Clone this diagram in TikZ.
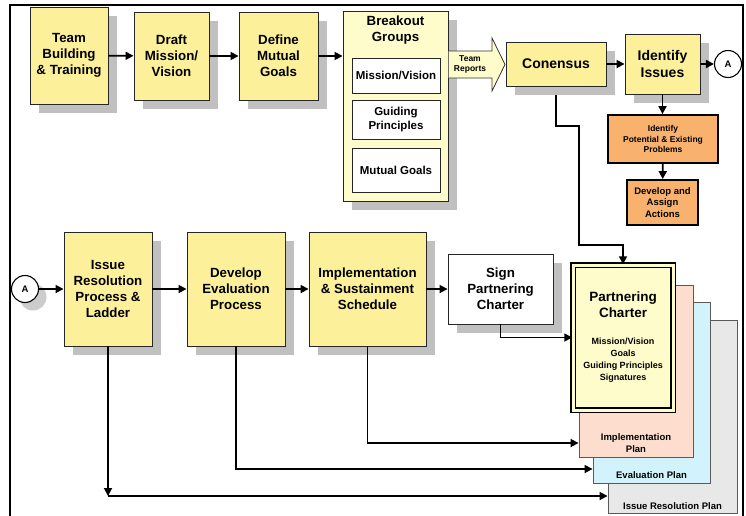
\documentclass[tikz,border=0pt]{standalone}
\usepackage{fontspec}
\setmainfont{Liberation Sans}
\usepackage{tikz}
\usetikzlibrary{positioning,shadows,arrows.meta}
\definecolor{boxyellow}{HTML}{FCF09B}
\definecolor{paleyellow}{HTML}{FFFCCC}
\definecolor{shadowgray}{HTML}{C0C0C0}
\definecolor{boxorange}{HTML}{F8B26E}
\definecolor{planpink}{HTML}{FDDDCD}
\definecolor{planblue}{HTML}{D3F3FC}
\definecolor{plangray}{HTML}{E8E8E8}

\begin{document}
\begin{tikzpicture}[
x=1pt, y=-1pt, >={Triangle[length=8pt,width=8pt]},
shadowed/.style={drop shadow={shadow xshift=9pt, shadow yshift=-9pt, fill=shadowgray, opacity=1}},
yellowbox/.style={rectangle, draw=black!85, line width=0.9pt, fill=boxyellow, shadowed},
signbox/.style={rectangle, draw=black!85, line width=0.9pt, fill=white, shadowed},
groupbox/.style={rectangle, draw=black!85, line width=0.9pt, fill=white},
orangebox/.style={rectangle, draw=black, line width=1.8pt, fill=boxorange},
planpage/.style={rectangle, draw=black!65, line width=0.9pt},
letter/.style={circle, draw=black, line width=1.1pt, fill=white, minimum size=27pt, font=\bfseries\fontsize{9.5}{11}\selectfont},
conn/.style={->, line width=1.7pt},
bigtext/.style={font=\bfseries\fontsize{13.3}{16}\selectfont},
hugetext/.style={font=\bfseries\fontsize{14}{17}\selectfont},
midtext/.style={font=\bfseries\fontsize{11.5}{14}\selectfont},
smalltext/.style={font=\bfseries\fontsize{9.5}{11.7}\selectfont},
tinytext/.style={font=\bfseries\fontsize{8.5}{10.5}\selectfont},
plantext/.style={font=\bfseries\fontsize{9.5}{12}\selectfont}]
\tikzstyle{every node}=[inner sep=0pt, align=center]
\useasboundingbox (0,0) rectangle (746,515);

% top row
\node[yellowbox, bigtext, minimum width=78pt, minimum height=97pt] (team) at (69,55.5) {Team\\Building\\\& Training};
\node[yellowbox, bigtext, minimum width=75pt, minimum height=88pt] (draft) at (171.5,56) {Draft\\Mission/\\Vision};
\node[yellowbox, bigtext, minimum width=79pt, minimum height=88pt] (goals) at (278.5,56) {Define\\Mutual\\Goals};
\node[yellowbox, fill=paleyellow, minimum width=105pt, minimum height=190pt] (groups) at (395.5,106) {};
\node[bigtext] (gtitle) at (395.5,30) {Breakout\\Groups};
\node[groupbox, midtext, minimum width=88pt, minimum height=35pt] (gmission) at (396,75.5) {Mission/Vision};
\node[groupbox, midtext, minimum width=88pt, minimum height=39pt] (gprinciples) at (396,119.5) {Guiding\\Principles};
\node[groupbox, midtext, minimum width=88pt, minimum height=44pt] (ggoals) at (396,170) {Mutual Goals};

\draw[draw=black!80, line width=0.8pt, fill=paleyellow] (448.5,51) -- (492,51) -- (492,38) -- (505,64.5) -- (492,91) -- (492,78) -- (448.5,78);
\node[tinytext] (reports) at (470,64.5) {Team\\Reports};

\node[yellowbox, hugetext, minimum width=100pt, minimum height=44pt] (conensus) at (556,64) {Conensus};
\node[yellowbox, hugetext, minimum width=75pt, minimum height=60pt] (issues) at (662.5,64) {Identify\\Issues};
\node[letter] (conA) at (728,64) {A};
\node[orangebox, tinytext, minimum width=110pt, minimum height=48pt] (problems) at (663,139) {Identify\\Potential \& Existing\\Problems};
\node[orangebox, smalltext, minimum width=71pt, minimum height=45pt] (actions) at (662.5,202.5) {Develop and\\Assign\\Actions};

% plans
\node[planpage, fill=plangray, minimum width=129pt, minimum height=193pt] (resplan) at (672.5,416.5) {};
\node[plantext, above=3.5pt of resplan.south] (restext) {Issue Resolution Plan};
\node[planpage, fill=planblue, minimum width=117pt, minimum height=181pt] (evalplan) at (651.5,392.5) {};
\node[plantext, above=5pt of evalplan.south] (evaltext) {Evaluation Plan};
\node[planpage, fill=planpink, minimum width=114pt, minimum height=172pt] (implplan) at (636,371) {};
\node[plantext, above=4.5pt of implplan.south] (impltext) {Implementation\\Plan};
\node[rectangle, draw=black, fill=paleyellow, line width=1.5pt, double=paleyellow, double distance=3pt, minimum width=100pt, minimum height=145pt] (charter) at (623,337.5) {};
\node[font=\bfseries\fontsize{13.5}{16}\selectfont] (ctitle) at (623,305) {Partnering\\Charter};
\node[font=\bfseries\fontsize{9}{12.2}\selectfont] (clist) at (623,360) {Mission/Vision\\Goals\\Guiding Principles\\Signatures};

% bottom row
\node[letter, drop shadow={shadow xshift=8pt, shadow yshift=-8pt, fill=black!20, opacity=1}] (conB) at (25,289) {A};
\node[yellowbox, bigtext, minimum width=88pt, minimum height=114pt] (ladder) at (108,289) {Issue\\Resolution\\Process \&\\Ladder};
\node[yellowbox, bigtext, minimum width=98pt, minimum height=114pt] (evaluation) at (236,289) {Develop\\Evaluation\\Process};
\node[yellowbox, bigtext, minimum width=117pt, minimum height=114pt] (schedule) at (367.5,289) {Implementation\\\& Sustainment\\Schedule};
\node[signbox, bigtext, minimum width=105pt, minimum height=70pt] (sign) at (500.5,289) {Sign\\Partnering\\Charter};

% connectors
\draw[conn] (team) -- (draft);
\draw[conn] (draft) -- (goals);
\draw[conn] (goals.east) -- (goals.east -| groups.west);
\draw[conn] (conensus) -- (issues);
\draw[conn] (issues) -- (conA);
\draw[conn] (issues.south) -- (issues.south |- problems.north);
\draw[conn] (problems) -- (actions);
\draw[conn] ([yshift=-9pt]conensus.south) |- (579,126) |- (623,245) -- (charter.north);
\draw[conn] (conB) -- (ladder);
\draw[conn] (ladder) -- (evaluation);
\draw[conn] (evaluation) -- (schedule);
\draw[conn] (schedule) -- (sign);
\draw[conn] (sign.south) |- (charter.west);
\draw[conn] (schedule.south) |- ([yshift=-72pt]implplan.west);
\draw[conn] (evaluation.south) |- ([yshift=-76.5pt]evalplan.west);
\coordinate (ladderturn) at ([yshift=-79.5pt]resplan.west -| ladder.south);
\draw[conn] (ladder.south) -- (ladderturn);
\draw[conn] (ladderturn) -- ([yshift=-79.5pt]resplan.west);

% frame
\draw[line width=2.6pt] (10,530) -- (10,5) -- (743,5) -- (743,530);
\end{tikzpicture}
\end{document}
